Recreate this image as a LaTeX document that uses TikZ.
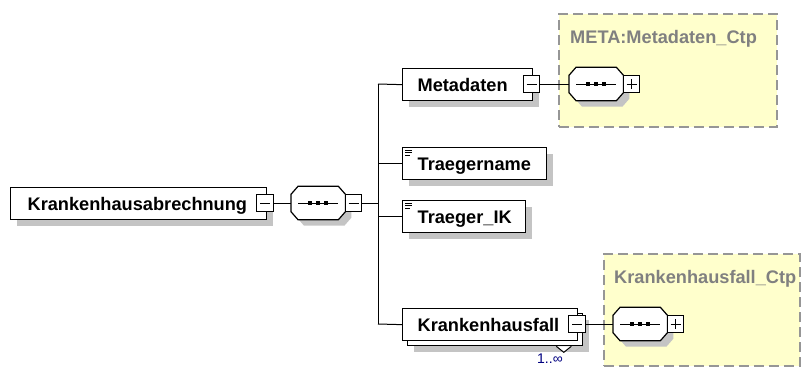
\documentclass[tikz,border=0pt]{standalone}
\usepackage{fontspec}
\setmainfont{Liberation Sans}
\usetikzlibrary{shadows}
\definecolor{shadowgray}{RGB}{196,196,196}
\definecolor{ctpfill}{RGB}{255,255,204}
\definecolor{ctpborder}{RGB}{150,150,150}
\definecolor{ctptext}{RGB}{128,128,128}
\definecolor{occtext}{RGB}{0,0,128}
\newcommand{\octpath}[1]{([xshift=7pt]#1.north west) -- ([xshift=-7pt]#1.north east) -- ([yshift=-8pt]#1.north east) -- ([yshift=8pt]#1.south east) -- ([xshift=-7pt]#1.south east) -- ([xshift=7pt]#1.south west) -- ([yshift=8pt]#1.south west) -- ([yshift=-8pt]#1.north west) -- cycle}
\newcommand{\seqdraw}[1]{%
  \fill[shadowgray, transform canvas={xshift=6pt,yshift=-6pt}] \octpath{#1};
  \filldraw[fill=white, draw=black, line width=1.2pt] \octpath{#1};
  \draw[line width=1pt] ([xshift=-20pt]#1.center) -- ([xshift=20pt]#1.center);
  \fill ([xshift=-8pt]#1.center) +(-1.9,-1.9) rectangle +(1.9,1.9);
  \fill (#1.center) +(-1.9,-1.9) rectangle +(1.9,1.9);
  \fill ([xshift=8pt]#1.center) +(-1.9,-1.9) rectangle +(1.9,1.9);}
\newcommand{\elicon}[1]{%
  \draw[line width=1pt] ([xshift=3pt,yshift=-3pt]#1.north west) -- ++(6.5,0);
  \draw[line width=1pt] ([xshift=3pt,yshift=-5.5pt]#1.north west) -- ++(6.5,0);
  \draw[line width=1pt] ([xshift=3pt,yshift=-8pt]#1.north west) -- ++(5,0);}
\begin{document}
\begin{tikzpicture}[x=1pt,y=-1pt,
  elfont/.style={font=\fontsize{18.2}{20}\selectfont\bfseries},
  elbox/.style={rectangle, draw=black, line width=1.3pt, fill=white, anchor=north west,
    inner ysep=0pt, minimum height=32pt, align=left, text height=13.1pt, text depth=0pt,
    elfont, text=black},
  shad/.style={drop shadow={shadow xshift=6pt, shadow yshift=-6pt, fill=shadowgray, draw=none, opacity=1}},
  stack/.style={drop shadow={shadow xshift=11pt, shadow yshift=-11pt, fill=shadowgray, draw=none, opacity=1},
    copy shadow={shadow xshift=5pt, shadow yshift=-5pt}},
  seqslot/.style={rectangle, draw=none, minimum width=54pt, minimum height=33pt, inner sep=0pt, anchor=west},
  toggle/.style={rectangle, draw=black, line width=1.1pt, fill=white, minimum size=16.5pt, inner sep=0pt},
  minustoggle/.style={toggle, path picture={\draw[line width=1pt]
    ([xshift=-5pt]path picture bounding box.center) -- ([xshift=5pt]path picture bounding box.center);}},
  plustoggle/.style={toggle, path picture={\draw[line width=1pt]
    ([xshift=-5pt]path picture bounding box.center) -- ([xshift=5pt]path picture bounding box.center)
    ([yshift=-5pt]path picture bounding box.center) -- ([yshift=5pt]path picture bounding box.center);}},
  ctpbox/.style={rectangle, draw=ctpborder, line width=1.5pt, dash pattern=on 10pt off 5pt,
    fill=ctpfill, anchor=north west, inner sep=0pt},
  ctplabel/.style={anchor=base west, text=ctptext, elfont, inner sep=0pt},
  conn/.style={draw=black, line width=1pt},
]
\useasboundingbox (0,0) rectangle (801,367);

% complex type containers
\node[ctpbox, minimum width=218pt, minimum height=113pt] (metactp) at (558,13) {};
\node[ctplabel] (metalabel) at (570,43) {META:Metadaten\_Ctp};
\node[ctpbox, minimum width=196pt, minimum height=112pt] (kfallctp) at (603,253) {};
\node[ctplabel] (kfalllabel) at (614,283) {Krankenhausfall\_Ctp};

% bus coordinates
\coordinate (busT) at (378,84);
\coordinate (busB) at (378,324);

% elements
\node[elbox, shad, inner xsep=17pt, text width=222pt] (root) at (10,187) {Krankenhausabrechnung};
\node[elbox, shad, inner xsep=15pt, text width=100pt] (meta) at (402,68) {Metadaten};
\node[elbox, shad, inner xsep=15pt, text width=114pt] (tname) at (402,147) {Traegername};
\node[elbox, shad, inner xsep=15pt, text width=93pt] (tik) at (402,200) {Traeger\_IK};
\node[elbox, stack, inner xsep=15pt, text width=145pt] (kfall) at (402,308) {Krankenhausfall};

\elicon{tname}
\elicon{tik}

% occurrence marker
\filldraw[fill=white, draw=black, line width=1pt]
  ([xshift=-22pt,yshift=-5pt]kfall.south east) -- ([xshift=-14.5pt,yshift=-11pt]kfall.south east)
  -- ([xshift=-7pt,yshift=-5pt]kfall.south east);
\node[anchor=base west, text=occtext, font=\fontsize{14}{16}\selectfont, inner sep=0pt] (occ) at (537,363) {1..∞};

% sequence compositors
\node[seqslot] (seq1) at (291,203) {};
\node[seqslot] (seq2) at (569,84) {};
\node[seqslot] (seq3) at (613,324) {};

% connectors
\draw[conn] (busT) -- (busB);
\draw[conn] (busT) -- (meta.west);
\draw[conn] (tname.west -| busT) -- (tname.west);
\draw[conn] (tik.west -| busT) -- (tik.west);
\draw[conn] (busB) -- (kfall.west);

\seqdraw{seq1}
\seqdraw{seq2}
\seqdraw{seq3}

% toggles
\node[minustoggle] (rootm) at (265,203) {};
\node[minustoggle] (seq1m) at (353.5,203) {};
\node[minustoggle] (metam) at (531.5,84) {};
\node[plustoggle] (seq2p) at (631.5,84) {};
\node[minustoggle] (kfallm) at (577,324) {};
\node[plustoggle] (seq3p) at (675.5,324) {};

\draw[conn] (rootm.east) -- (seq1.west);
\draw[conn] (seq1m.east) -- (seq1m.east -| busT);
\draw[conn] (metam.east) -- (seq2.west);
\draw[conn] (kfallm.east) -- (seq3.west);
\end{tikzpicture}
\end{document}
